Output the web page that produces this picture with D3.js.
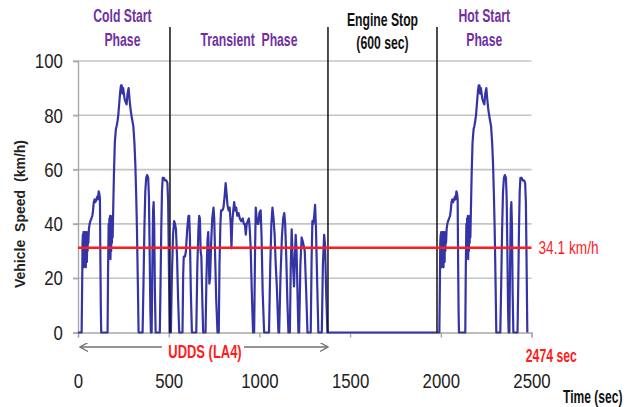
<!DOCTYPE html>
<html>
<head>
<meta charset="utf-8">
<script src="https://cdn.jsdelivr.net/npm/d3@7"></script>
<style>
  body { margin: 0; background: #fff; }
  svg { display: block; }
</style>
</head>
<body>
<div id="chart"></div>
<script>
// tick values on both axes
const timeTicks = [0, 500, 1000, 1500, 2000, 2500];
const speedTicks = [0, 20, 40, 60, 80, 100];

// [time (sec), speed (km/h)]
const coldStartPhase = [
  [0,0],[20,0],[23,18],[25,33],[27,36],[28,26],[30,37],[31,24],[33,35],[34,27],[36,37],[37,25],[39,36],[40,28],
  [42,37],[43,24],[45,35],[46,28],[48,37],[49,26],[51,36],[53,30],[55,37],[57,33],[60,38],[64,40],[68,41],[74,42],
  [79,43],[83,45],[87,48],[91,49],[96,48],[101,49],[106,50],[110,49],[114,52],[118,51],[121,49],[123,30],[126,8],[128,0],
  [163,0],[166,25],[169,40],[171,29],[173,42],[175,31],[177,43],[179,27],[181,40],[183,30],[185,42],[187,33],[189,43],
  [191,35],[194,45],[198,58],[203,70],[209,75],[213,76],[218,78],[222,80],[228,85],[233,89],[237,91],[241,91],[245,88],
  [249,90],[253,88],[257,86],[262,85],[268,84],[273,88],[279,90],[284,86],[290,82],[297,79],[305,76],[311,70],[316,62],
  [321,50],[325,38],[330,18],[334,0],
  [356,0],[361,18],[366,38],[371,52],[376,57],[381,58],[387,57],[391,50],[395,30],[399,8],[402,0],[406,0],[410,25],
  [414,45],[417,48],[420,40],[424,15],[428,0],
  [451,0],[455,18],[459,38],[463,52],[467,57],[473,57],[480,56],[487,56],[493,55],[497,48],[501,25],[505,0]
];

const transientPhase = [
  [512,0],[518,22],[524,36],[530,41],[535,40],[540,38],[546,28],[552,12],[558,0],[576,0],[580,22],[583,28],[590,28],
  [595,30],[602,38],[609,43],[613,43],[617,35],[622,15],[628,0],[652,0],[658,25],[664,38],[668,43],[672,42],[676,30],
  [680,28],[686,10],[690,0],[703,0],[708,20],[714,34],[718,37],[721,30],[724,18],[728,20],[734,33],[740,42],[747,46],
  [751,42],[756,28],[762,12],[769,0],[776,0],[780,25],[785,40],[789,45],[796,45],[802,46],[808,50],[814,55],[818,52],
  [824,47],[830,45],[836,46],[842,40],[846,31],[850,40],[856,45],[861,48],[866,45],[872,46],[878,43],[885,44],[892,42],
  [900,41],[908,42],[914,40],[920,40],[925,36],[930,40],[936,41],[942,42],[947,38],[952,31],[958,15],[965,0],[971,0],
  [976,30],[980,46],[985,42],[990,40],[995,40],[1000,44],[1007,45],[1012,35],[1018,15],[1026,0],[1053,0],[1060,25],
  [1066,40],[1072,46],[1078,42],[1084,36],[1090,25],[1096,17],[1105,0],[1109,0],[1116,20],[1124,35],[1131,42],[1137,44],
  [1142,40],[1148,28],[1154,12],[1160,0],[1168,0],[1173,25],[1178,38],[1183,28],[1191,17],[1196,28],[1200,36],[1205,30],
  [1210,15],[1215,0],[1219,0],[1226,25],[1233,35],[1241,33],[1250,30],[1258,15],[1265,0],[1283,0],[1288,28],[1292,41],
  [1297,40],[1302,43],[1307,47],[1312,38],[1318,20],[1325,0],[1344,0],[1350,25],[1357,36],[1362,32],[1368,15],[1375,0]
];

const hotStartPhase = [
  [1972,0],[1992,0],[1995,18],[1997,33],[1999,36],[2000,26],[2002,37],[2003,24],[2005,35],[2006,27],[2008,37],[2009,25],
  [2011,36],[2012,28],[2014,37],[2015,24],[2017,35],[2018,28],[2020,37],[2021,26],[2023,36],[2025,30],[2027,37],[2029,33],
  [2032,38],[2036,40],[2040,41],[2046,42],[2051,43],[2055,45],[2059,48],[2063,49],[2068,48],[2073,49],[2078,50],[2082,49],
  [2086,52],[2090,51],[2093,49],[2095,30],[2098,8],[2100,0],
  [2135,0],[2138,25],[2141,40],[2143,29],[2145,42],[2147,31],[2149,43],[2151,27],[2153,40],[2155,30],[2157,42],[2159,33],
  [2161,43],[2163,35],[2166,45],[2170,58],[2175,70],[2181,75],[2185,76],[2190,78],[2194,80],[2200,85],[2205,89],[2209,91],
  [2213,91],[2217,88],[2221,90],[2225,88],[2229,86],[2234,85],[2240,84],[2245,88],[2251,90],[2256,86],[2262,82],[2269,79],
  [2277,76],[2283,70],[2288,62],[2293,50],[2297,38],[2302,18],[2306,0],
  [2328,0],[2333,18],[2338,38],[2343,52],[2348,57],[2353,58],[2359,57],[2363,50],[2367,30],[2371,8],[2374,0],[2378,0],
  [2382,25],[2386,45],[2389,48],[2392,40],[2396,15],[2400,0],
  [2423,0],[2427,18],[2431,38],[2435,52],[2439,57],[2445,57],[2452,56],[2459,56],[2465,55],[2469,48],[2473,25],[2477,0]
];

// phase boundaries (sec) and the labels above each phase
const phaseBoundaries = [507, 1378, 1979];
const phaseSpans = [[0, 490], [507, 1378], [1378, 1979], [1979, 2500]];
const phaseLabels = [["Cold Start", "Phase"], ["Transient  Phase"], ["Engine Stop", "(600 sec)"], ["Hot Start", "Phase"]];
const phaseColors = ["#7030a0", "#7030a0", "#111", "#7030a0"];

// red reference line: drawn level and its label
const averageLevel = 31.2;
const averageLabel = "34.1 km/h";
const uddsSpan = [0, 1378];
const uddsLabel = "UDDS (LA4)";
const endTime = 2474;
const endLabel = "2474 sec";

const W = 634, H = 407;
const sans = "'Liberation Sans', Arial, sans-serif";
const red = "#ff1c1c";

const svg = d3.select("#chart").append("svg")
  .attr("width", W)
  .attr("height", H);

const x = d3.scaleLinear().domain([0, 2500]).range([78, 531.5]);
const y = d3.scaleLinear().domain([0, 100]).range([332.5, 61]);

// condensed text: regular font squeezed horizontally
function label(px, py, str, o) {
  return svg.append("text")
    .attr("transform", "translate(" + px + "," + py + ") scale(" + (o.sx || 0.75) + ",1)")
    .attr("dy", "0.35em")
    .attr("text-anchor", o.anchor || "middle")
    .attr("font-family", sans)
    .attr("font-weight", o.weight || "normal")
    .attr("font-size", o.size)
    .attr("fill", o.color || "#111")
    .attr("xml:space", "preserve")
    .text(str);
}

// horizontal grid
svg.append("g")
  .selectAll("line")
  .data(speedTicks.filter(d => d > 0))
  .join("line")
    .attr("x1", x(0) - 5).attr("x2", x(2500))
    .attr("y1", d => y(d)).attr("y2", d => y(d))
    .attr("stroke", "#c4c4c4")
    .attr("stroke-width", 1.6);

// Y axis
const yAxis = svg.append("g")
  .attr("transform", "translate(" + x(0) + ",0)")
  .call(d3.axisLeft(y).tickValues(speedTicks).tickSize(5).tickPadding(14));
yAxis.select(".domain").attr("stroke", "#a8a8a8").attr("stroke-width", 1.4);
yAxis.selectAll(".tick line").attr("stroke", "#a8a8a8").attr("stroke-width", 1.4);
yAxis.selectAll("text")
  .attr("transform", "scale(0.8,1)")
  .attr("font-family", sans)
  .attr("font-size", 21)
  .attr("fill", "#222");

// X axis
const xAxis = svg.append("g")
  .attr("transform", "translate(0," + y(0) + ")")
  .call(d3.axisBottom(x).tickValues(timeTicks).tickFormat(d3.format("d")).tickSize(5).tickPadding(36));
xAxis.select(".domain").attr("stroke", "#a8a8a8").attr("stroke-width", 1.4);
xAxis.selectAll(".tick line").attr("stroke", "#a8a8a8").attr("stroke-width", 1.4);
xAxis.selectAll("text")
  .attr("transform", "scale(0.8,1)")
  .attr("font-family", sans)
  .attr("font-size", 21)
  .attr("fill", "#222");

// speed trace
const trace = coldStartPhase.concat(transientPhase, hotStartPhase);
const line = d3.line()
  .x(d => x(d[0]))
  .y(d => y(d[1]));

svg.append("path")
  .datum(trace)
  .attr("d", line)
  .attr("fill", "none")
  .attr("stroke", "#3434a6")
  .attr("stroke-width", 2.2)
  .attr("stroke-linejoin", "round");

// phase separators
svg.append("g")
  .selectAll("line")
  .data(phaseBoundaries)
  .join("line")
    .attr("x1", d => x(d)).attr("x2", d => x(d))
    .attr("y1", 27).attr("y2", y(0))
    .attr("stroke", "#111")
    .attr("stroke-width", 1.5);

// average line
svg.append("line")
  .attr("x1", x(0)).attr("x2", x(2500))
  .attr("y1", y(averageLevel)).attr("y2", y(averageLevel))
  .attr("stroke", red)
  .attr("stroke-width", 2.5);

label(x(2500) + 7, y(averageLevel), averageLabel, { size: 19, sx: 0.72, anchor: "start", color: red });

// phase labels
phaseLabels.forEach((lines, i) => {
  const cx = x((phaseSpans[i][0] + phaseSpans[i][1]) / 2);
  const rows = lines.length === 2 ? [i === 2 ? 20 : 16, i === 2 ? 43 : 39.5] : [40];
  lines.forEach((t, j) => {
    label(cx, rows[j], t, { size: 18.5, sx: 0.66, weight: "bold", color: phaseColors[i] });
  });
});

// UDDS double arrow with label in the gap
const arrowY = 347;
const uddsMid = x((uddsSpan[0] + uddsSpan[1]) / 2);
const gap = 41;
svg.append("defs").append("marker")
  .attr("id", "head")
  .attr("viewBox", "0 0 10 10")
  .attr("refX", 9).attr("refY", 5)
  .attr("markerWidth", 9).attr("markerHeight", 9)
  .attr("markerUnits", "userSpaceOnUse")
  .attr("orient", "auto")
  .append("path")
    .attr("d", "M0,0 L9,5 L0,10")
    .attr("fill", "none")
    .attr("stroke", "#707070")
    .attr("stroke-width", 1.4);

[[uddsMid - gap, x(uddsSpan[0]) + 2], [uddsMid + gap, x(uddsSpan[1])]].forEach(([a, b]) => {
  svg.append("line")
    .attr("x1", a).attr("x2", b)
    .attr("y1", arrowY).attr("y2", arrowY)
    .attr("stroke", "#707070")
    .attr("stroke-width", 1.4)
    .attr("marker-end", "url(#head)");
});

label(uddsMid + 2, 352, uddsLabel, { size: 18, sx: 0.72, weight: "bold", color: red });
label(x(endTime) - 1, 356, endLabel, { size: 18, sx: 0.68, weight: "bold", color: red, anchor: "start" });

// axis titles
svg.append("text")
  .attr("transform", "translate(20,214) rotate(-90)")
  .attr("dy", "0.35em")
  .attr("text-anchor", "middle")
  .attr("font-family", sans)
  .attr("font-weight", "bold")
  .attr("font-size", 14)
  .attr("word-spacing", 4)
  .attr("fill", "#222")
  .text("Vehicle Speed (km/h)");

label(563, 397, "Time (sec)", { size: 18, sx: 0.67, weight: "bold", anchor: "start" });
</script>
</body>
</html>
